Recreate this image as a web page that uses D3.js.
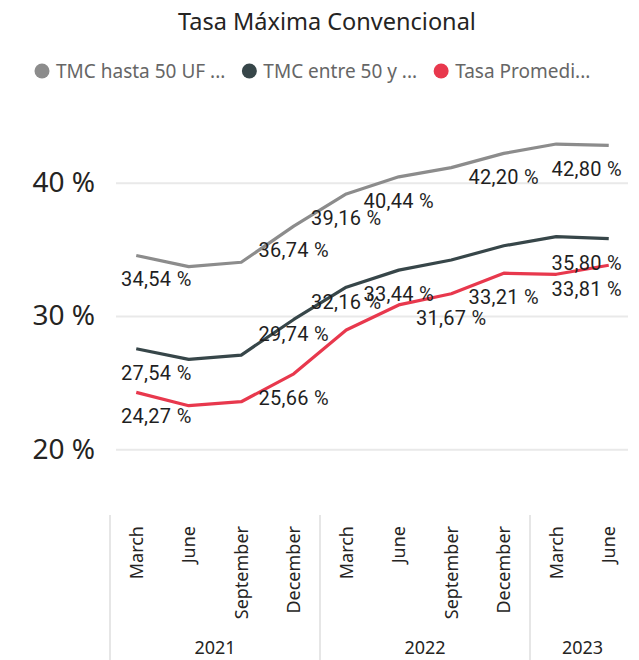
<!DOCTYPE html>
<html>
<head>
<meta charset="utf-8">
<script src="https://d3js.org/d3.v7.min.js"></script>
<style>
  html, body { margin: 0; padding: 0; background: #fff; overflow: hidden; }
  .grid line { stroke: #e9e9e9; stroke-width: 2px; }
  .yaxis text { font-family: "Noto Sans", sans-serif; font-size: 28px; fill: #252423; }
  .xaxis text { font-family: "Noto Sans", sans-serif; font-size: 18px; fill: #252423; }
  .labels text { font-family: Roboto, sans-serif; font-size: 20px; fill: #1f1f1f; letter-spacing: 0.3px; }
</style>
</head>
<body>
<svg id="chart" width="639" height="660"></svg>
<script>
// quarters shown on the x axis, with their year
var quarters = ["March", "June", "September", "December",
                "March", "June", "September", "December",
                "March", "June"];
var quarterYears = ["2021", "2021", "2021", "2021",
                    "2022", "2022", "2022", "2022",
                    "2023", "2023"];

// series values (%)
var tmcHasta50 = [34.54, 33.70, 34.03, 36.74, 39.16, 40.44, 41.13, 42.20, 42.90, 42.80];
var tmcEntre50 = [27.54, 26.75, 27.07, 29.74, 32.16, 33.44, 34.20, 35.27, 35.95, 35.80];
var tasaPromedio = [24.27, 23.27, 23.57, 25.66, 28.95, 30.83, 31.67, 33.21, 33.13, 33.81];

// which points carry a data label in the original
var labelsHasta50 = [0, 3, 4, 5, 7, 9];
var labelsEntre50 = [0, 3, 4, 5, 9];
var labelsPromedio = [0, 3, 6, 7, 9];

var legendNames = ["TMC hasta 50 UF ...", "TMC entre 50 y ...", "Tasa Promedi..."];
var yTicks = [20, 30, 40];

var series = [
    {name: legendNames[0], values: tmcHasta50, labels: labelsHasta50, color: "#8c8c8c"},
    {name: legendNames[1], values: tmcEntre50, labels: labelsEntre50, color: "#374649"},
    {name: legendNames[2], values: tasaPromedio, labels: labelsPromedio, color: "#e8384d"}
];

var svg = d3.select("#chart");

var x = d3.scaleBand()
    .domain(d3.range(quarters.length))
    .range([110, 635]);
var xc = function(i) { return x(i) + x.bandwidth() / 2; };

var y = d3.scaleLinear()
    .domain([20, 40])
    .range([449.3, 182.7]);

var plotLeft = 116, plotRight = 628;

// title
svg.append("text")
    .attr("x", 327)
    .attr("y", 30)
    .attr("text-anchor", "middle")
    .style("font-family", "'Noto Sans', sans-serif")
    .style("font-size", "23.5px")
    .style("fill", "#252423")
    .text("Tasa Máxima Convencional");

// legend
var legend = svg.append("g");
var lx = 42;
series.forEach(function(s) {
    legend.append("circle")
        .attr("cx", lx)
        .attr("cy", 71)
        .attr("r", 7.5)
        .attr("fill", s.color);
    var t = legend.append("text")
        .attr("x", lx + 14)
        .attr("y", 71)
        .attr("dy", "0.35em")
        .style("font-family", "'Noto Sans', sans-serif")
        .style("font-size", "19px")
        .style("fill", "#666")
        .text(s.name);
    lx = lx + 14 + t.node().getComputedTextLength() + 24;
});

// y axis with grid lines
svg.append("g")
    .attr("class", "grid yaxis")
    .attr("transform", "translate(" + plotLeft + ",0)")
    .call(d3.axisLeft(y)
        .tickValues(yTicks)
        .tickSize(-(plotRight - plotLeft))
        .tickPadding(21)
        .tickFormat(function(d) { return d + " %"; }))
    .call(function(g) { g.select(".domain").remove(); });

// x axis: month labels
var xAxis = svg.append("g")
    .attr("class", "xaxis")
    .attr("transform", "translate(0,526)")
    .call(d3.axisBottom(x)
        .tickSize(0)
        .tickFormat(function(i) { return quarters[i]; }));
xAxis.select(".domain").remove();
xAxis.selectAll("text")
    .attr("transform", "rotate(-90)")
    .attr("text-anchor", "end")
    .attr("x", 0)
    .attr("y", 0)
    .attr("dy", "0.35em");

// year groups
var yearGroups = [];
quarterYears.forEach(function(yr, i) {
    var last = yearGroups[yearGroups.length - 1];
    if (!last || last.year !== yr) yearGroups.push({year: yr, start: i, end: i});
    else last.end = i;
});
yearGroups.forEach(function(g) {
    var x0 = x(g.start), x1 = x(g.end) + x.bandwidth();
    svg.append("line")
        .attr("x1", x0).attr("x2", x0)
        .attr("y1", 515).attr("y2", 660)
        .attr("stroke", "#e6e6e6")
        .attr("stroke-width", 2);
    svg.append("text")
        .attr("x", (x0 + x1) / 2)
        .attr("y", 654)
        .attr("text-anchor", "middle")
        .style("font-family", "'Noto Sans', sans-serif")
        .style("font-size", "18px")
        .style("fill", "#252423")
        .text(g.year);
});

// lines
var line = d3.line()
    .x(function(d, i) { return xc(i); })
    .y(function(d) { return y(d); });

svg.append("g").selectAll("path")
    .data(series)
    .join("path")
    .attr("d", function(s) { return line(s.values); })
    .attr("fill", "none")
    .attr("stroke", function(s) { return s.color; })
    .attr("stroke-width", 3.2)
    .attr("stroke-linejoin", "round");

// data labels, placed below the point; nudged up when another line crosses them
function crosses(other, mid, bx0, bx1) {
    for (var i = 0; i < other.values.length - 1; i++) {
        var x1 = xc(i), x2 = xc(i + 1);
        var y1 = y(other.values[i]), y2 = y(other.values[i + 1]);
        if ((y1 - mid) * (y2 - mid) <= 0 && y1 !== y2) {
            var xm = x1 + (mid - y1) / (y2 - y1) * (x2 - x1);
            if (xm >= bx0 && xm <= bx1) return true;
        }
    }
    return false;
}

var labels = svg.append("g").attr("class", "labels");
series.forEach(function(s) {
    s.labels.forEach(function(i) {
        var t = labels.append("text")
            .attr("text-anchor", "middle")
            .attr("dy", "0.35em")
            .text(s.values[i].toFixed(2).replace(".", ",") + " %");
        var w = t.node().getComputedTextLength();
        var cx = Math.max(121 + w / 2, Math.min(622 - w / 2, xc(i)));
        var py = y(s.values[i]);
        var mid = py + 24;
        var hit = series.some(function(o) {
            return o !== s && crosses(o, mid, cx - w / 2 - 5, cx + w / 2 + 5);
        });
        if (hit) mid = py + 15;
        t.attr("x", cx).attr("y", mid);
    });
});
</script>
</body>
</html>
